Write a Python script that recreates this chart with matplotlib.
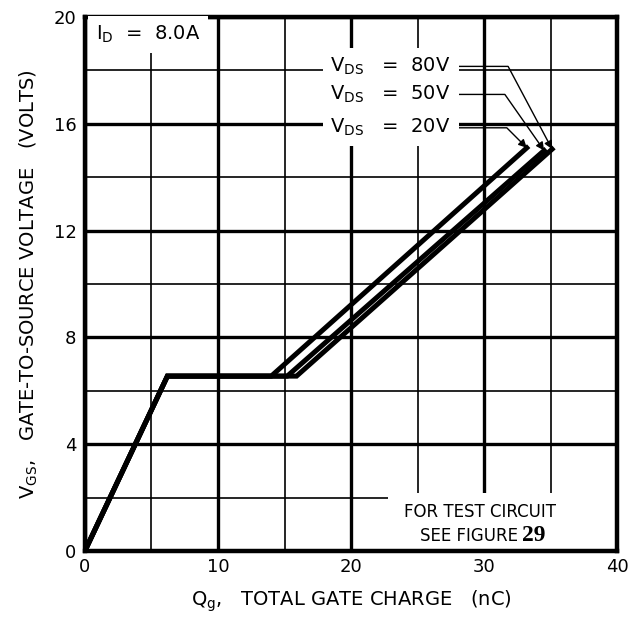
import matplotlib
matplotlib.use('Agg')
import matplotlib.pyplot as plt
from matplotlib.ticker import MultipleLocator
from matplotlib.patches import Rectangle

plt.rcParams['font.family'] = 'DejaVu Sans'
plt.rcParams['mathtext.fontset'] = 'dejavusans'

# gate charge curves, I_D = 8.0 A
vds_labels = ['20V', '50V', '80V']
q_knee = 6.2          # nC, end of first rise
v_plateau = 6.55      # V, Miller plateau
q_plateau_end = [14.0, 15.2, 15.9]
q_end = [33.2, 34.5, 35.1]
v_end = [15.1, 15.0, 15.05]

# label text positions (data coords) for the V_DS leaders
label_y = [15.85, 17.1, 18.15]
leader_angle = [-45, -55, -62]

fig = plt.figure(figsize=(6.43, 6.18), dpi=100)
ax = fig.add_axes([0.1320, 0.1084, 0.8281, 0.8641])

for i in range(len(vds_labels)):
    q = [0, q_knee, q_plateau_end[i], q_end[i]]
    v = [0, v_plateau, v_plateau, v_end[i]]
    ax.plot(q, v, color='black', lw=3.6, solid_joinstyle='miter', zorder=2)

ax.set_xlim(0, 40)
ax.set_ylim(0, 20)
ax.xaxis.set_major_locator(MultipleLocator(10))
ax.xaxis.set_minor_locator(MultipleLocator(5))
ax.yaxis.set_major_locator(MultipleLocator(4))
ax.yaxis.set_minor_locator(MultipleLocator(2))
ax.grid(which='major', color='black', lw=2.4)
ax.grid(which='minor', color='black', lw=1.2)
ax.tick_params(which='both', length=0)
ax.tick_params(axis='x', pad=5, labelsize=13)
ax.tick_params(axis='y', pad=6, labelsize=13)
for s in ax.spines.values():
    s.set_linewidth(3.2)

# V_DS labels with leader arrows
for i in range(len(vds_labels)):
    ax.annotate(r'V$_{\mathrm{DS}}$   =  ' + vds_labels[i],
                xy=(q_end[i], v_end[i]), xytext=(27.5, label_y[i]),
                ha='right', va='center', fontsize=14,
                bbox=dict(boxstyle='square,pad=0.4', fc='white', ec='none'),
                arrowprops=dict(arrowstyle='-|>', color='black', lw=1.0,
                                mutation_scale=12, shrinkA=0, shrinkB=0,
                                connectionstyle='angle,angleA=0,angleB=%d,rad=0'
                                % leader_angle[i]))

ax.text(0.8, 19.35, r'I$_{\mathrm{D}}$  =  8.0A', fontsize=14, ha='left', va='center',
        bbox=dict(boxstyle='square,pad=0.4', fc='white', ec='none'))

# blank area behind the test circuit note
ax.add_patch(Rectangle((22.8, 0), 17.2, 2.17, fc='white', ec='none', zorder=1.8))
ax.text(29.7, 1.45, 'FOR TEST CIRCUIT', fontsize=12, ha='center', va='center')
ax.text(32.5, 0.55, 'SEE FIGURE', fontsize=12, ha='right', va='center')
ax.text(32.8, 0.58, '29', fontsize=17, ha='left', va='center',
        family='Liberation Serif', weight='bold')

ax.set_xlabel(r'Q$_{\mathrm{g}}$,   TOTAL GATE CHARGE   (nC)', fontsize=14, labelpad=9)
ax.set_ylabel(r'V$_{\mathrm{GS}}$,   GATE-TO-SOURCE VOLTAGE   (VOLTS)', fontsize=14, labelpad=10)

plt.savefig('out.png', dpi=100)
